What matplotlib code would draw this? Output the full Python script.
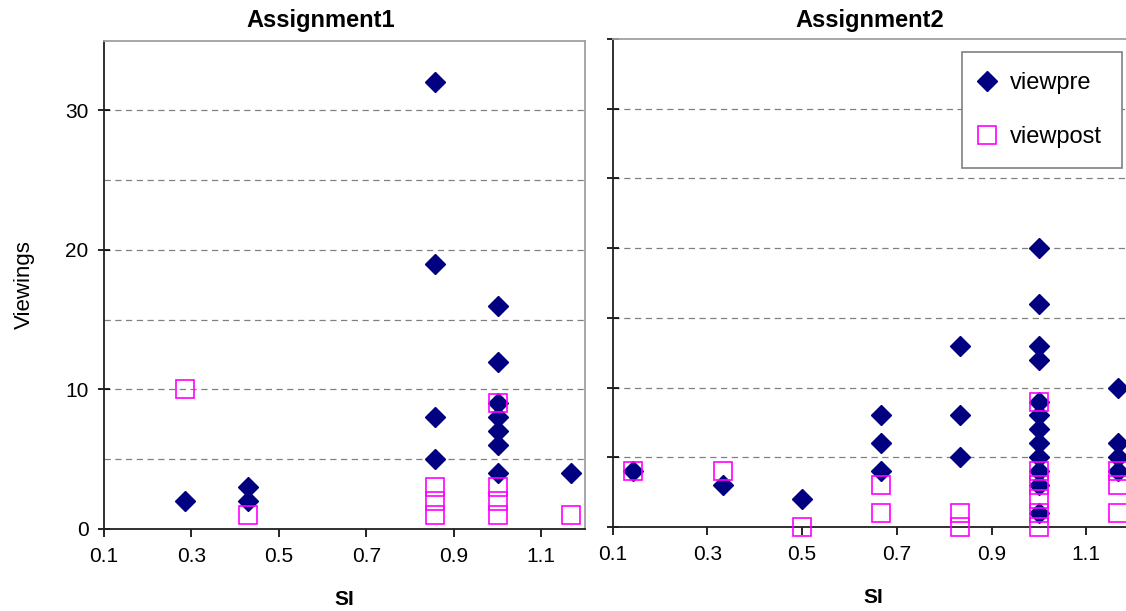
import matplotlib
matplotlib.use("Agg")
import matplotlib.pyplot as plt
from matplotlib.lines import Line2D
from matplotlib.ticker import MultipleLocator, FixedLocator

plt.rcParams['font.family'] = ['Liberation Sans', 'DejaVu Sans']

# Assignment 1 data
a1_pre_si = [0.286, 0.429, 0.429, 0.857, 0.857, 0.857, 0.857,
             1.0, 1.0, 1.0, 1.0, 1.0, 1.0, 1.0, 1.167]
a1_pre_view = [2, 3, 2, 32, 19, 8, 5, 16, 12, 9, 8, 7, 6, 4, 4]
a1_post_si = [0.286, 0.429, 0.857, 0.857, 0.857, 1.0, 1.0, 1.0, 1.0, 1.167]
a1_post_view = [10, 1, 3, 2, 1, 9, 3, 2, 1, 1]

# Assignment 2 data
a2_pre_si = [0.143, 0.333, 0.5, 0.667, 0.667, 0.667, 0.833, 0.833, 0.833,
             1.0, 1.0, 1.0, 1.0, 1.0, 1.0, 1.0, 1.0, 1.0, 1.0, 1.0, 1.0,
             1.167, 1.167, 1.167, 1.167]
a2_pre_view = [4, 3, 2, 8, 6, 4, 13, 8, 5,
               20, 16, 13, 12, 9, 8, 7, 6, 5, 4, 3, 1,
               10, 6, 5, 4]
a2_post_si = [0.143, 0.333, 0.5, 0.667, 0.667, 0.833, 0.833,
              1.0, 1.0, 1.0, 1.0, 1.0, 1.0, 1.167, 1.167, 1.167]
a2_post_view = [4, 4, 0, 3, 1, 1, 0, 9, 4, 3, 2, 1, 0, 4, 3, 1]

x_ticks = [0.1, 0.3, 0.5, 0.7, 0.9, 1.1]
x_tick_labels = ["0.1", "0.3", "0.5", "0.7", "0.9", "1.1"]

PRE_COLOR = "#000080"
POST_COLOR = "#FF00FF"
GRID_GRAY = "#808080"

W, H = 1126, 611
fig = plt.figure(figsize=(W / 100, H / 100), dpi=100)
fig.patch.set_facecolor("white")


def px_rect(left, top, right, bottom):
    return [left / W, 1 - bottom / H, (right - left) / W, (bottom - top) / H]


ax1 = fig.add_axes(px_rect(104, 40.5, 585, 529))
ax2 = fig.add_axes(px_rect(612.7, 39, 612.7 + 520.9, 527))

panels = [
    (ax1, a1_pre_si, a1_pre_view, a1_post_si, a1_post_view),
    (ax2, a2_pre_si, a2_pre_view, a2_post_si, a2_post_view),
]

for ax, psi, pv, qsi, qv in panels:
    ax.set_xlim(0.1, 1.2)
    ax.set_ylim(0, 35)
    ax.set_facecolor("white")
    for y in [5, 10, 15, 20, 25, 30]:
        ax.axhline(y, color=GRID_GRAY, lw=0.9, dashes=(5, 3.6), zorder=1)
    ax.plot(psi, pv, linestyle="none", marker="D", ms=9.8,
            color=PRE_COLOR, mec=PRE_COLOR, zorder=3, clip_on=False)
    ax.plot(qsi, qv, linestyle="none", marker="s", ms=12.8,
            mfc="none", mec=POST_COLOR, mew=1.2, zorder=4, clip_on=False)
    ax.xaxis.set_major_locator(FixedLocator(x_ticks))
    ax.set_xticklabels(x_tick_labels)
    ax.tick_params(axis="x", direction="out", length=6, width=1.2,
                   labelsize=15, pad=7, colors="black")
    ax.tick_params(axis="y", direction="inout", length=8, width=1.2,
                   labelsize=15, pad=7)
    ax.spines["left"].set_color("#202020")
    ax.spines["bottom"].set_color("#202020")
    ax.spines["left"].set_linewidth(1.3)
    ax.spines["bottom"].set_linewidth(1.3)
    ax.spines["top"].set_color("#A0A0A0")
    ax.spines["right"].set_color("#A0A0A0")
    ax.spines["top"].set_linewidth(1.3)
    ax.spines["right"].set_linewidth(1.3)
    ax.set_xlabel("SI", fontsize=15, fontweight="bold", labelpad=17)

ax1.yaxis.set_major_locator(MultipleLocator(10))
ax1.set_ylabel("Viewings", fontsize=16, labelpad=22)
ax2.yaxis.set_major_locator(MultipleLocator(5))
ax2.tick_params(axis="y", labelleft=False)

fig.text(321 / W, 1 - 20 / H, "Assignment1", ha="center", va="center",
         fontsize=17, fontweight="bold")
fig.text(870 / W, 1 - 20 / H, "Assignment2", ha="center", va="center",
         fontsize=17, fontweight="bold")

handles = [
    Line2D([], [], linestyle="none", marker="D", ms=9.8, color=PRE_COLOR),
    Line2D([], [], linestyle="none", marker="s", ms=12.8, mfc="none",
           mec=POST_COLOR, mew=1.2),
]
leg = fig.legend(handles, ["viewpre", "viewpost"], loc="upper left",
                 bbox_to_anchor=(962 / W, 1 - 52 / H), borderaxespad=0,
                 fontsize=17, frameon=True, fancybox=False, framealpha=1,
                 edgecolor="#808080", handlelength=0.4, handletextpad=0.8,
                 labelspacing=1.35, borderpad=0.85)
leg.get_frame().set_linewidth(1.2)

fig.savefig("out.png", dpi=100, facecolor="white")
